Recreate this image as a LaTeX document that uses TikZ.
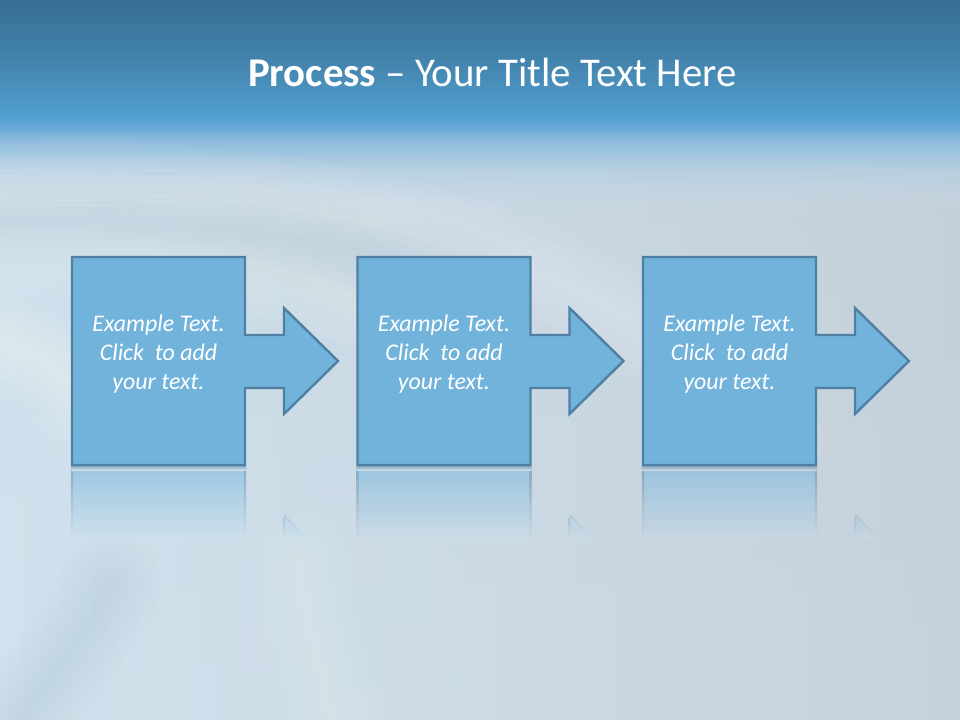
\documentclass[tikz,border=0pt]{standalone}
\usepackage{fontspec}
\setmainfont{Carlito}
\definecolor{boxfill}{HTML}{72B3DC}
\definecolor{boxline}{HTML}{4F80A4}
\definecolor{bgL}{HTML}{D4E6F1}
\definecolor{bgR}{HTML}{C4CCD4}
\definecolor{wavedark}{HTML}{A9BDCD}
\definecolor{bgA}{HTML}{CFE0EB}
\definecolor{bgB}{HTML}{CCDBE5}
\definecolor{bgC}{HTML}{C9D6E0}
\pgfdeclareverticalshading{bgv}{100bp}{%
 rgb(0bp)=(0.800,0.867,0.914); rgb(25bp)=(0.800,0.867,0.914);
 rgb(61.11bp)=(0.769,0.843,0.894); rgb(63.19bp)=(0.706,0.812,0.886);
 rgb(65.28bp)=(0.553,0.737,0.867); rgb(66.11bp)=(0.416,0.667,0.839);
 rgb(66.81bp)=(0.322,0.627,0.816); rgb(70.9bp)=(0.259,0.514,0.675);
 rgb(75bp)=(0.216,0.431,0.576); rgb(100bp)=(0.216,0.431,0.576)}
\newcommand\procpath[1]{(#1,257) -- ({#1+173},257) -- ({#1+173},335) -- ({#1+212},335) -- ({#1+212},308) -- ({#1+266},361) -- ({#1+212},414) -- ({#1+212},388) -- ({#1+173},388) -- ({#1+173},465) -- (#1,465) -- cycle}
\newcommand\softwave[3]{\foreach \w in {100,84,68,52,38,26,14,6}{\draw[#2,line width=\w bp,opacity=#3,line cap=round] #1;}}
\tikzset{
  procbox/.style={fill=boxfill,draw=boxline,line width=2.4bp,line join=miter},
  proctext/.style={text=white,align=center,font=\fontsize{24}{29}\selectfont\itshape},
  titletext/.style={text=white,font=\fontsize{41}{50}\selectfont}
}
% reflection of one process shape, #1 = left x, #2 = local background colour
\newcommand\procreflect[2]{%
  \shade[top color=boxfill!55!#2,bottom color=#2] (#1,467) rectangle ({#1+173},540);
  \shade[top color=boxline!55!#2,bottom color=#2] ({#1-1.2},467) rectangle ({#1+1.2},540);
  \shade[top color=boxline!55!#2,bottom color=#2] ({#1+171.8},467) rectangle ({#1+174.2},540);
  \shade[top color=boxline!55!#2,bottom color=#2] ({#1-1.2},466) rectangle ({#1+174.2},470);
  \begin{scope}
    \clip ({#1+212},518) -- ({#1+235},541) -- ({#1+212},541) -- cycle;
    \shade[top color=boxfill!20!#2,bottom color=#2] ({#1+210},518) rectangle ({#1+240},540);
  \end{scope}
  \shade[top color=boxline!25!#2,bottom color=#2] ({#1+210.8},518) rectangle ({#1+213.2},540);
  \begin{scope}
    \clip ({#1+212},516.5) -- ({#1+237},541.5) -- ({#1+237},539) -- ({#1+212},514) -- cycle;
    \shade[top color=boxline!25!#2,bottom color=#2] ({#1+210},514) rectangle ({#1+240},540);
  \end{scope}
}
\begin{document}
\begin{tikzpicture}[x=1bp,y=-1bp]
\useasboundingbox (0,0) rectangle (960,720);
% background
\shade[shading=bgv] (0,0) rectangle (960,720);
\foreach \i in {0,...,13}{
  \pgfmathsetmacro\op{0.65*\i/14}
  \shade[left color=bgL,right color=bgR,opacity=\op] (0,{150+5*\i}) rectangle (960,{155+5*\i});
}
\shade[left color=bgL,right color=bgR,opacity=0.65] (0,220) rectangle (960,720);
% soft waves
\softwave{(-40,198) .. controls (150,183) and (360,198) .. (560,283) .. controls (660,328) and (720,388) .. (780,438)}{white}{0.04}
\softwave{(-40,252) .. controls (120,240) and (260,248) .. (380,307)}{white}{0.04}
\softwave{(-40,340) .. controls (20,340) and (60,360) .. (100,420)}{white}{0.05}
\softwave{(-40,224) .. controls (140,214) and (300,224) .. (470,284)}{wavedark}{0.035}
\softwave{(110,585) .. controls (90,625) and (60,665) .. (20,720)}{wavedark}{0.035}
\softwave{(300,560) .. controls (300,610) and (320,655) .. (330,720)}{white}{0.03}
% reflections
\procreflect{72}{bgA}
\procreflect{357.5}{bgB}
\procreflect{643}{bgC}
% process shapes
\foreach \L in {72,357.5,643}{
  \path[procbox] \procpath{\L};
}
% texts
\foreach \L/\n in {72/1,357.5/2,643/3}{
  \node[proctext] (t\n) at ({\L+86.5},354) {Example Text.\\Click~ to add\\your text.};
}
% title
\node[titletext,anchor=base] (title) at (492.5,87) {\textbf{Process} – Your Title Text Here};
\end{tikzpicture}
\end{document}
